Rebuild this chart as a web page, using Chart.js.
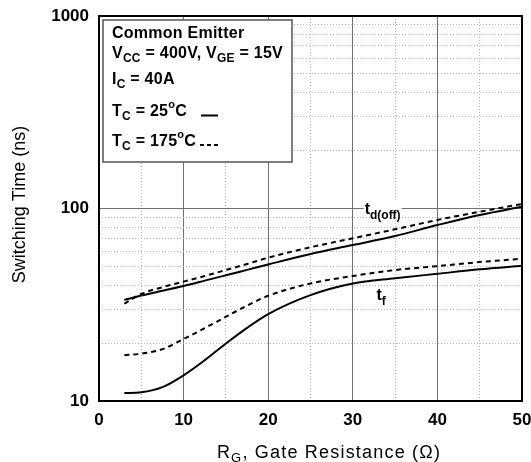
<!DOCTYPE html>
<html>
<head>
<meta charset="utf-8">
<script src="https://cdn.jsdelivr.net/npm/chart.js"></script>
<style>
  html, body { margin: 0; padding: 0; background: #fff; }
</style>
</head>
<body>
<canvas id="chart" width="531" height="462"></canvas>
<script>
// Gate resistance sample points (ohm)
const rg = [3, 5, 7.5, 10, 12.5, 15, 17.5, 20, 25, 30, 35, 40, 45, 50];

// Switching times (ns)
const tdOff25  = [33.5, 35.3, 37.4, 39.6, 42.2, 45.0, 48.0, 51.2, 58.0, 64.6, 72.0, 82.0, 92.5, 102];
const tdOff175 = [32.0, 36.0, 39.0, 41.7, 44.6, 47.9, 51.5, 55.5, 62.9, 70.0, 78.0, 87.2, 96.2, 105.5];
const tf25     = [11.0, 11.1, 11.8, 13.6, 16.3, 19.9, 24.0, 28.3, 35.5, 40.8, 43.4, 45.8, 48.3, 50.4];
const tf175    = [17.3, 17.6, 18.6, 21.0, 23.9, 27.4, 31.3, 35.2, 40.8, 44.6, 47.9, 50.2, 52.7, 54.8];

// Axis ticks
const xMajorTicks = [0, 10, 20, 30, 40, 50];
const xMinorTicks = [5, 15, 25, 35, 45];
const yMajorTicks = [10, 100, 1000];
const yMinorTicks = [20, 30, 40, 50, 60, 70, 80, 90, 200, 300, 400, 500, 600, 700, 800, 900];

const FONT = '"Liberation Sans", Arial, sans-serif';

function points(ys) {
    return rg.map((x, i) => ({ x: x, y: ys[i] }));
}

function curve(data, dashed) {
    return {
        data: points(data),
        borderColor: '#000',
        borderWidth: 2,
        borderDash: dashed ? [5, 4] : [],
        pointRadius: 0,
        cubicInterpolationMode: 'monotone',
        fill: false
    };
}

// draws a run of text pieces side by side: [text, size, dy, weight]
function drawRuns(ctx, x, y, runs, spacing) {
    ctx.letterSpacing = (spacing || 0) + 'px';
    for (const [text, size, dy, weight] of runs) {
        ctx.font = `${weight || 'bold'} ${size}px ${FONT}`;
        ctx.fillText(text, x, y + (dy || 0));
        x += ctx.measureText(text).width;
    }
    ctx.letterSpacing = '0px';
    return x;
}

function runsWidth(ctx, runs, spacing) {
    ctx.letterSpacing = (spacing || 0) + 'px';
    let w = 0;
    for (const [text, size, dy, weight] of runs) {
        ctx.font = `${weight || 'bold'} ${size}px ${FONT}`;
        w += ctx.measureText(text).width;
    }
    ctx.letterSpacing = '0px';
    return w;
}

// keep the plot area fixed: no extra room for overhanging tick labels
function noPad(s) {
    s.paddingLeft = 0;
    s.paddingRight = 0;
    s.paddingTop = 0;
    s.paddingBottom = 0;
}

const annotations = {
    id: 'annotations',
    afterDatasetsDraw(chart) {
        const ctx = chart.ctx;
        const ca = chart.chartArea;
        const xs = chart.scales.x, ys = chart.scales.y;
        ctx.save();
        ctx.fillStyle = '#000';
        ctx.textBaseline = 'alphabetic';
        ctx.textAlign = 'left';

        // curve labels
        let px = xs.getPixelForValue(31.4), py = ys.getPixelForValue(93.8);
        ctx.fillStyle = '#fff';
        ctx.fillRect(px - 1, py - 12, 38, 10);
        ctx.fillStyle = '#000';
        drawRuns(ctx, px, py, [['t', 16], ['d(off)', 12, 5]]);
        px = xs.getPixelForValue(32.8); py = ys.getPixelForValue(33.5);
        drawRuns(ctx, px, py, [['t', 16], ['f', 12, 5]]);

        // condition box
        const bx = ca.left + 4, by = ca.top + 4;
        ctx.fillStyle = '#fff';
        ctx.fillRect(bx, by, 189, 142);
        ctx.strokeStyle = '#555';
        ctx.lineWidth = 1.5;
        ctx.strokeRect(bx, by, 189, 142);
        ctx.fillStyle = '#000';
        const tx = bx + 9;
        const sp = 0.25;
        drawRuns(ctx, tx, by + 17.5, [['Common Emitter', 16]], sp);
        drawRuns(ctx, tx, by + 37.5, [['V', 16], ['CC', 12, 4], [' = 400V, V', 16], ['GE', 12, 4], [' = 15V', 16]], sp);
        drawRuns(ctx, tx, by + 64, [['I', 16], ['C', 12, 4], [' = 40A', 16]], sp);
        drawRuns(ctx, tx, by + 96, [['T', 16], ['C', 12, 4], [' = 25', 16], ['o', 11, -8], ['C', 16]], sp);
        drawRuns(ctx, tx, by + 125.5, [['T', 16], ['C', 12, 4], [' = 175', 16], ['o', 11, -8], ['C', 16]], sp);

        ctx.strokeStyle = '#000';
        ctx.lineWidth = 2;
        ctx.beginPath();
        ctx.moveTo(bx + 98, by + 95.5);
        ctx.lineTo(bx + 115, by + 95.5);
        ctx.stroke();
        ctx.setLineDash([4, 3]);
        ctx.beginPath();
        ctx.moveTo(bx + 97, by + 125);
        ctx.lineTo(bx + 117, by + 125);
        ctx.stroke();
        ctx.setLineDash([]);

        // frame
        ctx.strokeStyle = '#000';
        ctx.lineWidth = 2;
        ctx.strokeRect(ca.left, ca.top, ca.right - ca.left, ca.bottom - ca.top);

        // axis titles
        ctx.fillStyle = '#000';
        const xt = [['R', 18, 0, 'normal'], ['G', 13, 4, 'normal'], [', Gate Resistance (\u03A9)', 18, 0, 'normal']];
        const xw = runsWidth(ctx, xt, 1.2);
        drawRuns(ctx, 329 - xw / 2, 458, xt, 1.2);

        ctx.translate(25, (ca.top + ca.bottom) / 2 - 4);
        ctx.rotate(-Math.PI / 2);
        ctx.textAlign = 'center';
        ctx.font = `18px ${FONT}`;
        ctx.fillText('Switching Time (ns)', 0, 0);
        ctx.restore();
    }
};

new Chart(document.getElementById('chart'), {
    type: 'line',
    data: {
        datasets: [
            curve(tdOff25, false),
            curve(tdOff175, true),
            curve(tf25, false),
            curve(tf175, true)
        ]
    },
    options: {
        responsive: false,
        animation: false,
        devicePixelRatio: 1,
        layout: { padding: { left: 0, right: 9, top: 16, bottom: 0 } },
        plugins: {
            legend: { display: false },
            tooltip: { enabled: false }
        },
        scales: {
            x: {
                type: 'linear',
                position: 'bottom',
                min: 0,
                max: 50,
                afterBuildTicks: s => { s.ticks = xMajorTicks.map(v => ({ value: v })); },
                afterFit: s => { s.height = 61; noPad(s); },
                ticks: {
                    color: '#000',
                    font: { family: FONT, size: 17, weight: 'bold' },
                    padding: 9,
                    maxRotation: 0,
                    autoSkip: false
                },
                grid: { color: '#707070', lineWidth: 1, drawTicks: false },
                border: { color: '#000', width: 2 }
            },
            xMinor: {
                type: 'linear',
                position: 'bottom',
                min: 0,
                max: 50,
                afterBuildTicks: s => { s.ticks = xMinorTicks.map(v => ({ value: v })); },
                afterFit: s => { s.height = 0; noPad(s); },
                ticks: { display: false },
                grid: { color: '#b8b8b8', lineWidth: 1, drawTicks: false },
                border: { display: false, dash: [1, 2] }
            },
            y: {
                type: 'logarithmic',
                position: 'left',
                min: 10,
                max: 1000,
                afterBuildTicks: s => { s.ticks = yMajorTicks.map(v => ({ value: v })); },
                afterFit: s => { s.width = 99; noPad(s); },
                ticks: {
                    color: '#000',
                    font: { family: FONT, size: 17, weight: 'bold' },
                    padding: 10,
                    callback: v => String(v)
                },
                grid: { color: '#707070', lineWidth: 1, drawTicks: false },
                border: { color: '#000', width: 2 }
            },
            yMinor: {
                type: 'logarithmic',
                position: 'left',
                min: 10,
                max: 1000,
                afterBuildTicks: s => { s.ticks = yMinorTicks.map(v => ({ value: v })); },
                afterFit: s => { s.width = 0; noPad(s); },
                ticks: { display: false },
                grid: { color: '#b8b8b8', lineWidth: 1, drawTicks: false },
                border: { display: false, dash: [1, 2] }
            }
        }
    },
    plugins: [annotations]
});
</script>
</body>
</html>
